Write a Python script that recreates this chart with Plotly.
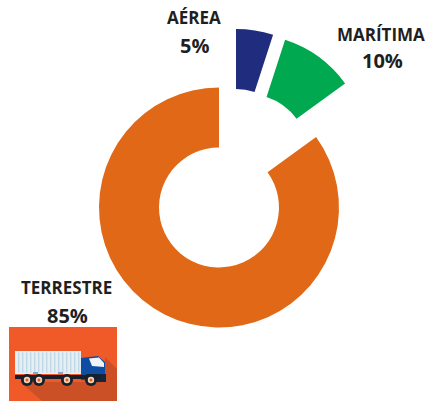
import plotly.graph_objects as go

W, H = 426, 401

# Transport modes and their share of freight
modes = ["AÉREA", "MARÍTIMA", "TERRESTRE"]
shares = [5, 10, 85]
colors = ["#202C7E", "#00A94F", "#E06816"]
share_labels = ["5%", "10%", "85%"]

RADIUS = 120
TRANSPARENT = "rgba(0,0,0,0)"


def px(x):
    return x / W


def py(y):
    return 1 - y / H


def ring(index, cx, cy):
    """One visible sector of the ring, centred on a pixel position."""
    fill = [colors[i] if i == index else TRANSPARENT for i in range(len(modes))]
    return go.Pie(
        labels=modes,
        values=shares,
        sort=False,
        direction="clockwise",
        rotation=0,
        hole=0.5,
        textinfo="none",
        hoverinfo="label+percent",
        showlegend=False,
        marker=dict(colors=fill, line=dict(width=0)),
        domain=dict(
            x=[px(cx - RADIUS), px(cx + RADIUS)],
            y=[py(cy + RADIUS), py(cy - RADIUS)],
        ),
    )


fig = go.Figure([ring(2, 219, 207.5), ring(0, 236, 149), ring(1, 248, 154)])


def rect(x0, y0, x1, y1, fill):
    return dict(type="rect", xref="paper", yref="paper", x0=px(x0), x1=px(x1),
                y0=py(y1), y1=py(y0), fillcolor=fill, line_width=0)


def circle(cx, cy, r, fill):
    return dict(type="circle", xref="paper", yref="paper", x0=px(cx - r), x1=px(cx + r),
                y0=py(cy + r), y1=py(cy - r), fillcolor=fill, line_width=0)


def polygon(points, fill):
    path = "M " + " L ".join(f"{px(x):.4f} {py(y):.4f}" for x, y in points) + " Z"
    return dict(type="path", xref="paper", yref="paper", path=path, fillcolor=fill, line_width=0)


# Truck icon on its tile
icon = [
    rect(9, 327, 117, 401, "#F05A28"),
    polygon([(105, 357), (117, 369), (117, 401), (42, 401), (20, 382), (105, 382)], "#CC5026"),
    rect(15, 351, 81, 374, "#E3EEF5"),
]
icon += [rect(x, 352.5, x + 1.4, 372.5, "#C3D8E6") for x in range(18, 80, 4)]
icon += [
    rect(33, 372, 38, 374, "#7FA8CC"),
    rect(58, 372, 63, 374, "#7FA8CC"),
    polygon([(81, 358), (98, 356), (105, 362), (105, 382), (81, 380)], "#0F4DA2"),
    polygon([(89, 358.5), (99, 357.5), (104, 363), (104, 367), (92, 366)], "#EEF4F8"),
    rect(86, 374, 106, 382, "#12273F"),
    rect(15, 375, 100, 379, "#17202A"),
]
for wheel_x in (27, 39, 67, 91):
    icon += [
        circle(wheel_x, 380, 6, "#17202A"),
        circle(wheel_x, 380, 3.2, "#F4D3B8"),
        circle(wheel_x, 380, 1.5, "#D9602B"),
    ]


def label(text, x, y, size):
    return dict(text=f"<b>{text}</b>", x=px(x), y=py(y), xref="paper", yref="paper",
                xanchor="center", yanchor="middle", showarrow=False,
                font=dict(family="Open Sans", size=size, color="#1F1F1F"))


annotations = [
    label(modes[0], 194, 18, 17),
    label(share_labels[0], 194, 45, 20),
    label(modes[1], 381, 34, 17),
    label(share_labels[1], 382, 61, 20),
    label(modes[2], 66, 287, 17),
    label(share_labels[2], 67, 315, 20),
]

fig.update_layout(
    width=W,
    height=H,
    margin=dict(l=0, r=0, t=0, b=0),
    paper_bgcolor="white",
    shapes=icon,
    annotations=annotations,
)

fig.write_html("out.html", config=dict(displayModeBar=False))
